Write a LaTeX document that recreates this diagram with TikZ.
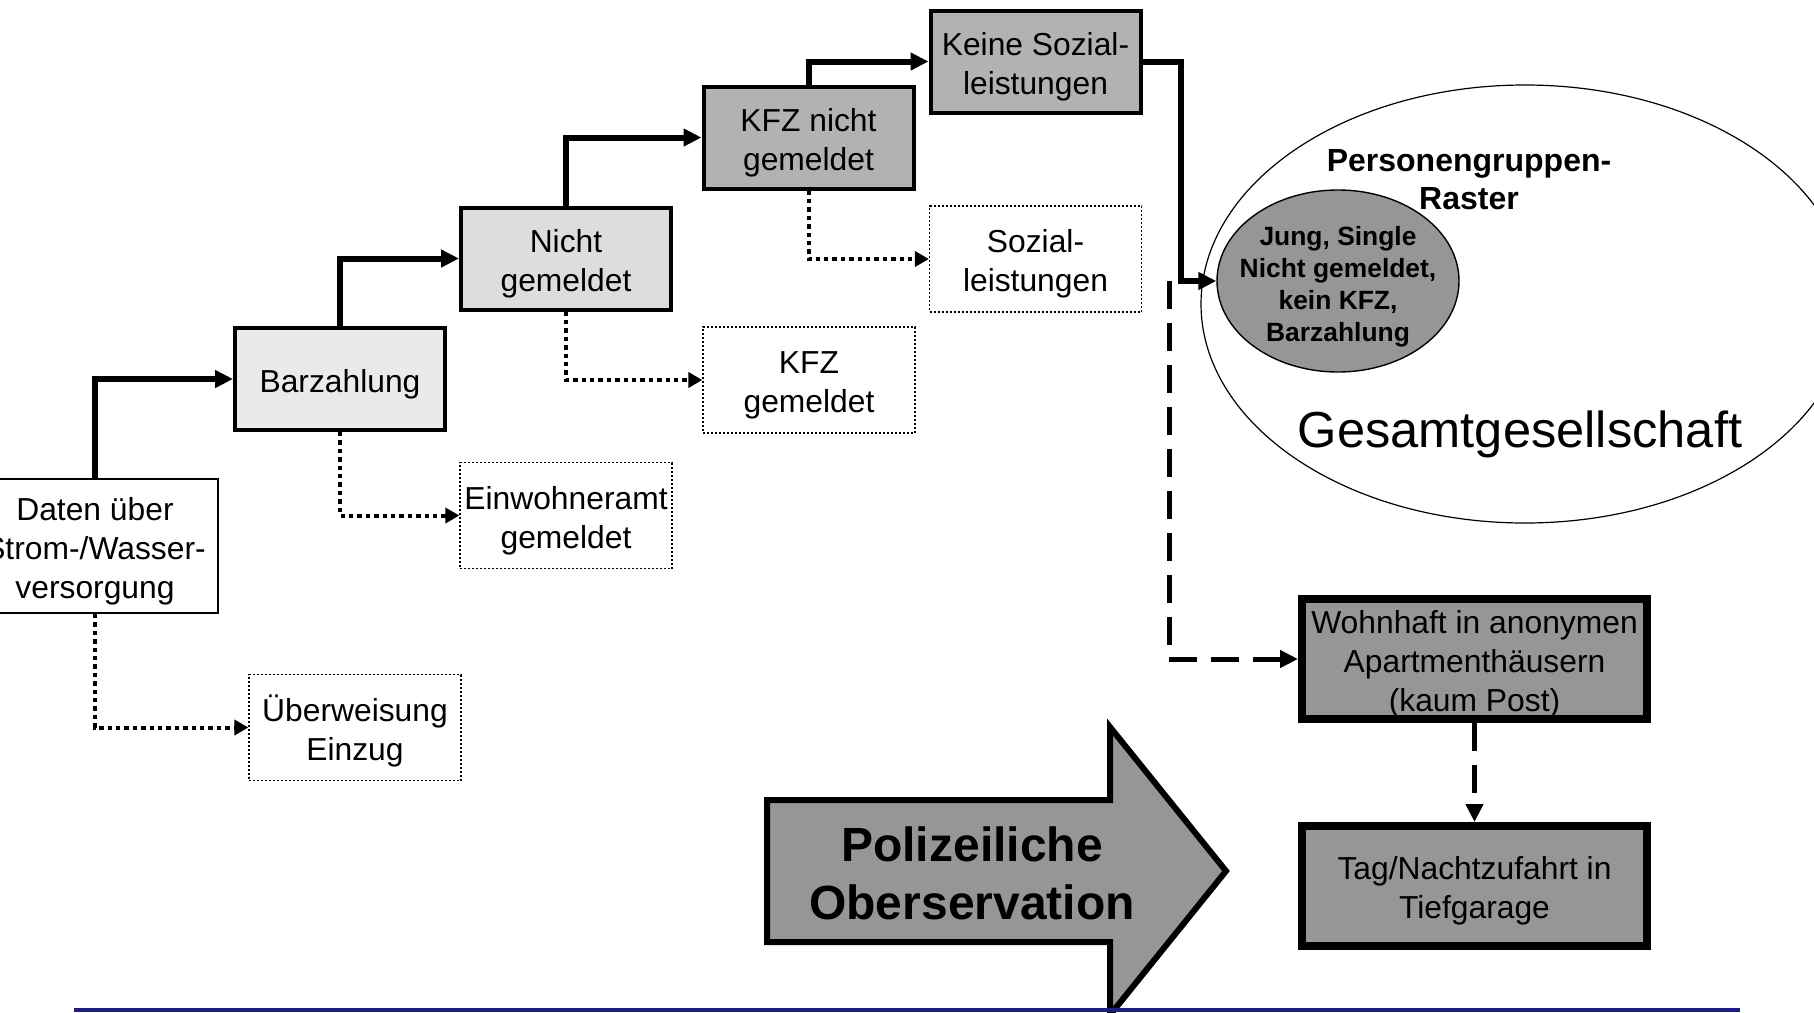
\documentclass[tikz,border=0pt]{standalone}
\usepackage{fontspec}
\setmainfont{Liberation Sans}
\usetikzlibrary{arrows.meta,shapes.geometric}
\definecolor{fillA}{HTML}{EAEAEA}
\definecolor{fillB}{HTML}{DDDDDD}
\definecolor{fillC}{HTML}{B2B2B2}
\definecolor{fillD}{HTML}{969696}
\definecolor{navyline}{RGB}{28,28,140}
\newcommand{\btxt}[1]{\setbox0=\hbox{\begin{tabular}{@{}c@{}}#1\end{tabular}}%
  \dimen0=\ht0 \dimen2=\dp0
  \setbox0=\hbox{\lower2.8pt\box0}\ht0=\dimen0 \dp0=\dimen2 \box0}
\begin{document}
\begin{tikzpicture}[x=0.5pt,y=-0.5pt,
  box/.style={draw, rectangle, inner sep=0pt,
    font=\fontsize{15.9}{19.5}\selectfont, minimum width=105pt, minimum height=51pt},
  solidbox/.style={box, line width=2pt},
  dotbox/.style={box, line width=0.6pt, dash pattern=on 1pt off 1pt, minimum width=106pt, minimum height=53pt},
  bigbox/.style={box, line width=4pt, fill=fillD, minimum width=172.5pt, minimum height=60pt},
  thickarrow/.style={line width=3pt, -{Triangle[length=9pt,width=8.5pt]}},
  dotarrow/.style={line width=2pt, dash pattern=on 2.2pt off 2pt, -{Triangle[length=7pt,width=7.5pt]}},
  dasharrow/.style={line width=2.5pt, dash pattern=on 14pt off 7pt, -{Triangle[length=9pt,width=8.5pt]}}
]
\useasboundingbox (0,0) rectangle (1814,1012);
\clip (0,0) rectangle (1814,1012);

% big ellipse and its texts
\node[draw, ellipse, line width=0.6pt, inner sep=0pt, minimum width=324pt, minimum height=219pt] (ges) at (1525,304) {};
\node[font=\bfseries\fontsize{16}{19}\selectfont, align=center] (raster) at (1469,180) {Personengruppen-\\Raster};
\node[font=\fontsize{25.3}{30}\selectfont] (gestext) at (1520,434) {Gesamtgesellschaft};

% small ellipse
\node[draw, ellipse, line width=0.7pt, fill=fillD, inner sep=0pt, minimum width=121pt, minimum height=91pt] (grp) at (1338,281) {};
\node[font=\bfseries\fontsize{13.2}{16}\selectfont, align=center] (grptext) at (1338,287) {Jung, Single\\Nicht gemeldet,\\kein KFZ,\\Barzahlung};

% boxes
\node[box, line width=1pt, fill=white, minimum width=123pt, minimum height=67pt] (daten) at (95,546) {\btxt{Daten über\\Strom-/Wasser-\\versorgung}};
\node[solidbox, fill=fillA] (barz) at (340,379) {\btxt{Barzahlung}};
\node[dotbox] (uberw) at (355,727.5) {\btxt{Überweisung\\Einzug}};
\node[solidbox, fill=fillB] (nicht) at (566,258.5) {\btxt{Nicht\\gemeldet}};
\node[dotbox] (einw) at (566,515.5) {\btxt{Einwohneramt\\gemeldet}};
\node[solidbox, fill=fillC] (kfzn) at (808.5,137.5) {\btxt{KFZ nicht\\gemeldet}};
\node[dotbox] (kfzg) at (809,380) {\btxt{KFZ\\gemeldet}};
\node[solidbox, fill=fillC] (keine) at (1035.5,61.5) {\btxt{Keine Sozial-\\leistungen}};
\node[dotbox] (sozial) at (1035.5,259) {\btxt{Sozial-\\leistungen}};
\node[bigbox] (wohn) at (1474.5,659) {\btxt{Wohnhaft in anonymen\\Apartmenthäusern\\(kaum Post)}};
\node[bigbox] (tag) at (1474.5,886) {\btxt{Tag/Nachtzufahrt in\\Tiefgarage}};

% big arrow
\draw[line width=3pt, fill=fillD] (767,800) -- (1110,800) -- (1110,727) -- (1226,871) -- (1110,1015) -- (1110,942) -- (767,942) -- cycle;
\node[font=\bfseries\fontsize{24}{29}\selectfont, align=center] (pol) at (972,873) {Polizeiliche\\Oberservation};

% solid step arrows
\draw[thickarrow] (daten.north) |- (barz.west);
\draw[thickarrow] (barz.north) |- (nicht.west);
\draw[thickarrow] (nicht.north) |- (kfzn.west);
\draw[thickarrow] (kfzn.north) |- (keine.west);
\coordinate (junc) at (1181,281);
\draw[thickarrow] (keine.east) -| (junc) -- (grp.west);

% dotted arrows
\draw[dotarrow] (daten.south) |- (uberw.west);
\draw[dotarrow] (barz.south) |- (einw.west);
\draw[dotarrow] (nicht.south) |- (kfzg.west);
\draw[dotarrow] (kfzn.south) |- (sozial.west);

% dashed arrows
\coordinate (dstart) at (1169,281);
\draw[dasharrow] (dstart) |- (wohn.west);
\draw[dasharrow] (wohn.south) -- (tag.north);

% bottom rule
\draw[navyline, line width=1.6pt] (74,1010) -- (1740,1010);
\end{tikzpicture}
\end{document}
